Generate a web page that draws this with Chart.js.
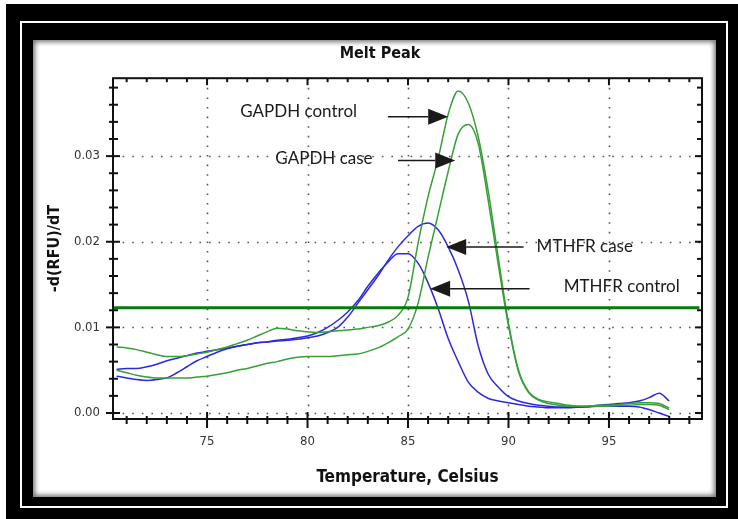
<!DOCTYPE html>
<html>
<head>
<meta charset="utf-8">
<title>Melt Peak</title>
<script src="https://cdn.jsdelivr.net/npm/chart.js@4.4.0/dist/chart.umd.min.js"></script>
<style>
  html, body { margin: 0; padding: 0; background: #fff; }
  body { width: 738px; height: 519px; position: relative; overflow: hidden; }
  .outer { position: absolute; left: 6px; top: 4px; width: 732px; height: 515px; background: #000; }
  .rule { position: absolute; left: 20px; top: 21px; width: 708px; height: 487px; border: 2px solid #fff; box-sizing: border-box; }
  .panel { position: absolute; left: 33px; top: 40px; width: 683px; height: 457px; background: #fff;
           box-shadow: inset 0 0 5px 2px rgba(0, 0, 0, 0.55); }
  canvas { position: absolute; left: 0; top: 0; }
</style>
</head>
<body>
<div class="outer"></div>
<div class="rule"></div>
<div class="panel"></div>
<canvas id="melt" width="738" height="519"></canvas>
<script>
// temperature grid (Celsius)
const temps = [
  70.5, 71, 71.5, 72, 72.5, 73, 73.5, 74, 74.5, 75,
  75.5, 76, 76.5, 77, 77.5, 78, 78.5, 79, 79.5, 80,
  80.5, 81, 81.5, 82, 82.5, 83, 83.5, 84, 84.5, 85,
  85.5, 86, 86.5, 87, 87.5, 88, 88.5, 89, 89.5, 90,
  90.5, 91, 91.5, 92, 92.5, 93, 93.5, 94, 94.5, 95,
  95.5, 96, 96.5, 97, 97.5, 98
];

// -d(RFU)/dT per sample
const gapdhControl = [
  0.0077, 0.0076, 0.0074, 0.0071, 0.0068, 0.0066, 0.0066, 0.0067, 0.0069, 0.0071,
  0.0074, 0.0077, 0.0081, 0.0085, 0.0090, 0.0095, 0.0099, 0.0098, 0.0096, 0.0095,
  0.0094, 0.0095, 0.0096, 0.0097, 0.0098, 0.0100, 0.0102, 0.0106, 0.0114, 0.0135,
  0.0198, 0.0253, 0.0297, 0.0349, 0.0376, 0.0362, 0.0322, 0.0258, 0.0180, 0.0105,
  0.0050, 0.0025, 0.0016, 0.0013, 0.0011, 0.0009, 0.0008, 0.0008, 0.0008, 0.0008,
  0.0009, 0.0009, 0.0010, 0.0010, 0.0009, 0.0004
];
const gapdhCase = [
  0.0050, 0.0047, 0.0044, 0.0042, 0.0041, 0.0041, 0.0041, 0.0041, 0.0042, 0.0043,
  0.0045, 0.0047, 0.0050, 0.0052, 0.0055, 0.0058, 0.0060, 0.0063, 0.0065, 0.0066,
  0.0066, 0.0066, 0.0067, 0.0068, 0.0069, 0.0072, 0.0076, 0.0082, 0.0089, 0.0098,
  0.0128, 0.0182, 0.0232, 0.0282, 0.0326, 0.0337, 0.0314, 0.0247, 0.0172, 0.0102,
  0.0048, 0.0024, 0.0015, 0.0011, 0.0009, 0.0008, 0.0008, 0.0008, 0.0009, 0.0009,
  0.0010, 0.0011, 0.0012, 0.0012, 0.0011, 0.0006
];
const mthfrControl = [
  0.0043, 0.0041, 0.0039, 0.0038, 0.0039, 0.0041, 0.0047, 0.0054, 0.0061, 0.0066,
  0.0071, 0.0075, 0.0078, 0.0080, 0.0082, 0.0083, 0.0085, 0.0086, 0.0088, 0.0090,
  0.0094, 0.0100, 0.0108, 0.0118, 0.0131, 0.0148, 0.0163, 0.0176, 0.0186, 0.0186,
  0.0175, 0.0152, 0.0122, 0.0087, 0.0060, 0.0036, 0.0024, 0.0017, 0.0014, 0.0012,
  0.0010, 0.0008, 0.0007, 0.0006, 0.0006, 0.0006, 0.0007, 0.0007, 0.0008, 0.0008,
  0.0008, 0.0008, 0.0007, 0.0004, 0.0000, -0.0004
];
const mthfrCase = [
  0.0051, 0.0052, 0.0052, 0.0054, 0.0057, 0.0061, 0.0064, 0.0067, 0.0070, 0.0072,
  0.0074, 0.0076, 0.0078, 0.0080, 0.0082, 0.0083, 0.0084, 0.0085, 0.0086, 0.0088,
  0.0090, 0.0094, 0.0100, 0.0112, 0.0128, 0.0144, 0.0160, 0.0178, 0.0194, 0.0207,
  0.0218, 0.0222, 0.0214, 0.0194, 0.0167, 0.0131, 0.0078, 0.0045, 0.0030, 0.0019,
  0.0014, 0.0011, 0.0009, 0.0008, 0.0007, 0.0007, 0.0007, 0.0008, 0.0009, 0.0010,
  0.0011, 0.0012, 0.0014, 0.0018, 0.0023, 0.0014
];

// threshold line
const thresholdLevel = 0.0123;
const thresholdSpan = [70.32, 99.5];

// axis ticks
const xTicks = [75, 80, 85, 90, 95];
const yTicks = [0, 0.01, 0.02, 0.03];

// annotations: label, text position, arrow from -> to
const noteLabels = ['GAPDH control', 'GAPDH case', 'MTHFR case', 'MTHFR control'];
const noteTextTemp = [76.65, 78.4, 91.4, 92.75];
const noteTextLevel = [0.0352, 0.0297, 0.0195, 0.0148];
const noteArrowFrom = [84.0, 84.5, 90.75, 91.05];
const noteArrowTo = [87.0, 87.35, 86.9, 86.1];
const noteArrowLevel = [0.0346, 0.0295, 0.0194, 0.0145];

const NARROW = "'Liberation Sans Narrow', 'DejaVu Sans Condensed', 'Liberation Sans', Arial, sans-serif";
const GREEN = '#36a036';
const BLUE = '#2a2ae0';

function pts(values) {
  return temps.map(function (t, i) { return { x: t, y: values[i] }; });
}

function line(ctx, x0, y0, x1, y1) {
  ctx.beginPath();
  ctx.moveTo(x0, y0);
  ctx.lineTo(x1, y1);
  ctx.stroke();
}

// dotted grid, plot frame, tick marks and the arrow notes
const meltFrame = {
  id: 'meltFrame',
  beforeDatasetsDraw: function (chart) {
    const ctx = chart.ctx, a = chart.chartArea, x = chart.scales.x, y = chart.scales.y;
    ctx.save();
    ctx.strokeStyle = '#555';
    ctx.lineWidth = 1.6;
    ctx.setLineDash([1.6, 8]);
    xTicks.forEach(function (v) {
      const px = Math.round(x.getPixelForValue(v)) + 0.5;
      line(ctx, px, a.top, px, a.bottom);
    });
    yTicks.forEach(function (v) {
      const py = Math.round(y.getPixelForValue(v)) + 0.5;
      line(ctx, a.left, py, a.right, py);
    });
    ctx.restore();
  },
  afterDatasetsDraw: function (chart) {
    const ctx = chart.ctx, a = chart.chartArea, x = chart.scales.x, y = chart.scales.y;
    ctx.save();
    ctx.strokeStyle = '#111';
    ctx.lineWidth = 2;
    ctx.strokeRect(a.left, a.top, a.right - a.left, a.bottom - a.top);

    // x ticks, every degree
    for (let t = Math.ceil(x.min); t <= x.max; t++) {
      const px = x.getPixelForValue(t);
      const major = xTicks.indexOf(t) >= 0;
      line(ctx, px, a.bottom - (major ? 7 : 3), px, a.bottom + (major ? 9 : 5));
      line(ctx, px, a.top, px, a.top + (major ? 7 : 4));
    }
    // y ticks, every 0.002
    for (let k = Math.ceil(y.min / 0.002); k * 0.002 <= y.max; k++) {
      const v = k * 0.002;
      const py = y.getPixelForValue(v);
      const major = k % 5 === 0;
      line(ctx, a.left - (major ? 7 : 4), py, a.left + (major ? 7 : 5), py);
      line(ctx, a.right - (major ? 7 : 5), py, a.right, py);
    }

    // notes with arrows
    ctx.fillStyle = '#1a1a1a';
    ctx.strokeStyle = '#1a1a1a';
    ctx.lineWidth = 1.5;
    ctx.font = "17px Lato, 'Open Sans', sans-serif";
    ctx.textBaseline = 'middle';
    ctx.textAlign = 'left';
    noteLabels.forEach(function (label, i) {
      ctx.fillText(label, x.getPixelForValue(noteTextTemp[i]), y.getPixelForValue(noteTextLevel[i]));
      const x0 = x.getPixelForValue(noteArrowFrom[i]);
      const x1 = x.getPixelForValue(noteArrowTo[i]);
      const py = y.getPixelForValue(noteArrowLevel[i]);
      const dir = Math.sign(x1 - x0);
      const head = 20;
      line(ctx, x0, py, x1 - dir * head, py);
      ctx.beginPath();
      ctx.moveTo(x1, py);
      ctx.lineTo(x1 - dir * head, py - 8);
      ctx.lineTo(x1 - dir * head, py + 8);
      ctx.closePath();
      ctx.fill();
    });
    ctx.restore();
  }
};

function curve(values, color) {
  return {
    data: pts(values),
    borderColor: color,
    borderWidth: 1.5,
    pointRadius: 0,
    cubicInterpolationMode: 'monotone',
    fill: false
  };
}

new Chart(document.getElementById('melt'), {
  type: 'line',
  data: {
    datasets: [
      {
        data: thresholdSpan.map(function (t) { return { x: t, y: thresholdLevel }; }),
        borderColor: '#0a7a0a',
        borderWidth: 3,
        pointRadius: 0
      },
      curve(gapdhControl, GREEN),
      curve(gapdhCase, GREEN),
      curve(mthfrCase, BLUE),
      curve(mthfrControl, BLUE)
    ]
  },
  options: {
    responsive: false,
    animation: false,
    devicePixelRatio: 1,
    layout: { padding: { left: 58, right: 36, top: 44, bottom: 22 } },
    plugins: {
      legend: { display: false },
      tooltip: { enabled: false },
      title: {
        display: true,
        text: 'Melt Peak',
        color: '#111',
        font: { family: NARROW, size: 16, weight: 'bold' },
        padding: { top: 0, bottom: 15 }
      }
    },
    scales: {
      x: {
        type: 'linear',
        min: 70.32,
        max: 99.63,
        afterFit: function (s) { s.height = 78; },
        afterBuildTicks: function (s) { s.ticks = xTicks.map(function (v) { return { value: v }; }); },
        grid: { display: false, drawTicks: false },
        border: { display: false },
        ticks: {
          padding: 15,
          color: '#333',
          font: { family: NARROW, size: 13 },
          maxRotation: 0,
          callback: function (v) { return String(v); }
        },
        title: {
          display: true,
          text: 'Temperature, Celsius',
          color: '#111',
          font: { family: NARROW, size: 17, weight: 'bold' },
          padding: { top: 0, bottom: 9 }
        }
      },
      y: {
        type: 'linear',
        min: -0.0007,
        max: 0.0391,
        afterFit: function (s) { s.width = 55; },
        afterBuildTicks: function (s) { s.ticks = yTicks.map(function (v) { return { value: v }; }); },
        grid: { display: false, drawTicks: false },
        border: { display: false },
        ticks: {
          padding: 13,
          color: '#333',
          font: { family: NARROW, size: 13 },
          callback: function (v) { return v.toFixed(2); }
        },
        title: {
          display: true,
          text: '-d(RFU)/dT',
          color: '#111',
          font: { family: NARROW, size: 16, weight: 'bold' },
          padding: { top: -13, bottom: 0 }
        }
      }
    }
  },
  plugins: [meltFrame]
});
</script>
</body>
</html>
